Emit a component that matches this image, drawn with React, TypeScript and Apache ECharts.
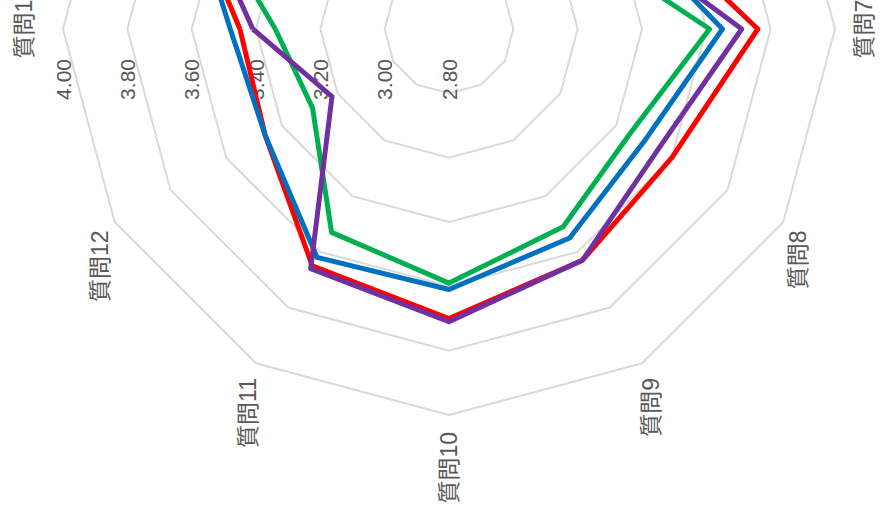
import React, { useEffect, useRef } from "react";
import * as echarts from "echarts";

const categories = ["質問1", "質問2", "質問3", "質問4", "質問5", "質問6", "質問7", "質問8", "質問9", "質問10", "質問11", "質問12"];
const seriesNames = ["系列1", "系列2", "系列3", "系列4"];
const redValues = [3.45, 3.79, 3.7, 3.65, 3.6, 3.49, 3.76, 3.6, 3.63, 3.7, 3.65, 3.46];
const blueValues = [3.48, 3.76, 3.65, 3.6, 3.55, 3.43, 3.65, 3.5, 3.55, 3.61, 3.62, 3.46];
const greenValues = [3.34, 3.75, 3.6, 3.55, 3.5, 3.3, 3.61, 3.45, 3.51, 3.59, 3.53, 3.29];
const purpleValues = [3.41, 3.75, 3.68, 3.62, 3.55, 3.39, 3.71, 3.55, 3.63, 3.71, 3.66, 3.22];
const colors = ["#FF0000", "#0070C0", "#00B050", "#7030A0"];
const axisMin = 2.8;
const axisMax = 4.0;
const splitCount = 6;

// ECharts places indicators counter-clockwise; reorder so they run clockwise.
const order = [0, ...Array.from({ length: categories.length - 1 }, (_, i) => categories.length - 1 - i)];

export default function App() {
  const ref = useRef<HTMLDivElement>(null);
  useEffect(() => {
    if (!ref.current) return;
    const chart = echarts.init(ref.current, undefined, { renderer: "svg" });
    const font = "'Liberation Sans', 'Noto Sans CJK JP', sans-serif";
    const all = [redValues, blueValues, greenValues, purpleValues];
    chart.setOption({
      animation: false,
      radar: {
        center: [488, 449],
        radius: 386,
        startAngle: 90,
        shape: "polygon",
        splitNumber: splitCount,
        nameGap: 17,
        axisName: { color: "#595959", fontSize: 23, fontFamily: font },
        axisLine: { show: false },
        axisTick: { show: false },
        axisLabel: {
          show: false,
          color: "#595959",
          fontSize: 21,
          fontFamily: font,
          margin: 30,
          formatter: (v: number) => v.toFixed(2),
        },
        splitLine: { lineStyle: { color: "#D9D9D9", width: 2 } },
        splitArea: { show: false },
        indicator: order.map((i, k) => ({
          name: categories[i],
          min: axisMin,
          max: axisMax,
          ...(k === 0 ? { axisLabel: { show: true }, nameGap: 28 } : {}),
        })),
      },
      series: [
        {
          type: "radar",
          symbol: "none",
          data: all.map((vals, s) => ({
            name: seriesNames[s],
            value: order.map((i) => vals[i]),
            lineStyle: { color: colors[s], width: 5 },
            itemStyle: { color: colors[s] },
          })),
        },
      ],
    });
    return () => chart.dispose();
  }, []);
  return (
    <div style={{ position: "fixed", left: 0, top: 0, width: 880, height: 517, overflow: "hidden", background: "#fff" }}>
      <div
        ref={ref}
        style={{
          position: "absolute",
          left: 0,
          top: 0,
          width: 517,
          height: 880,
          transformOrigin: "0 0",
          transform: "translate(0px, 517px) rotate(-90deg)",
        }}
      />
    </div>
  );
}
